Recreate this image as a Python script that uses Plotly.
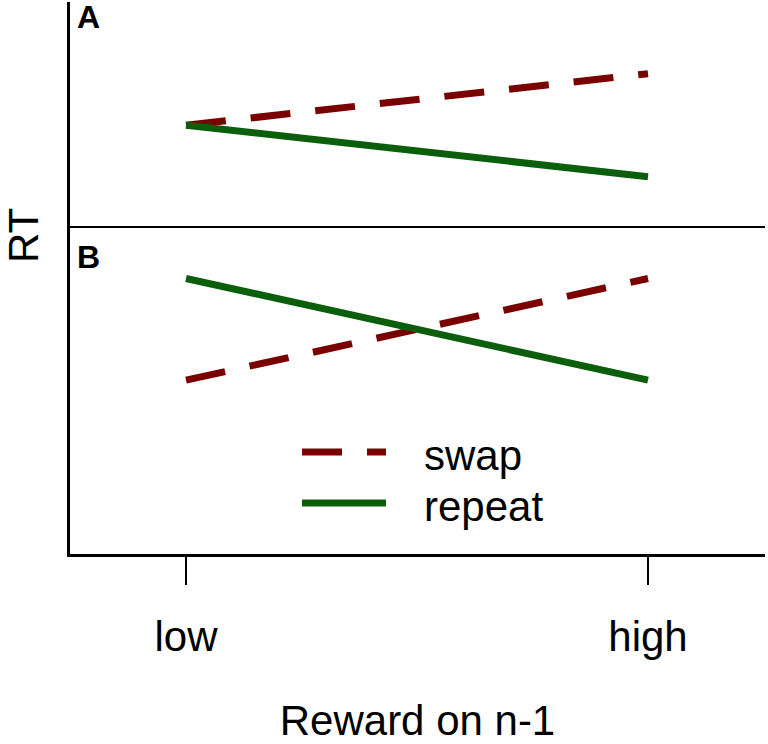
import plotly.graph_objects as go

# ---- data ----
categories = ["low", "high"]
panel_a_swap = [4.5, 6.8]
panel_a_repeat = [4.5, 2.2]
panel_b_swap = [5.3, 8.4]
panel_b_repeat = [8.4, 5.3]
series_names = ["swap", "repeat"]
panel_labels = ["A", "B"]
x_title = "Reward on n-1"
y_title = "RT"

RED = "#7a0000"
GREEN = "#0b5e0b"
FONT = "Liberation Sans, Arial, sans-serif"
DASH = "40px,25px"
FS = 42
LW = 7

fig = go.Figure()

# Panel A (top) on x2/y2
fig.add_trace(go.Scatter(x=categories, y=panel_a_swap, mode="lines", xaxis="x2", yaxis="y2",
                         line=dict(color=RED, width=LW, dash=DASH), showlegend=False, name=series_names[0]))
fig.add_trace(go.Scatter(x=categories, y=panel_a_repeat, mode="lines", xaxis="x2", yaxis="y2",
                         line=dict(color=GREEN, width=LW), showlegend=False, name=series_names[1]))
# Panel B (bottom) on x/y
fig.add_trace(go.Scatter(x=categories, y=panel_b_swap, mode="lines", xaxis="x", yaxis="y",
                         line=dict(color=RED, width=LW, dash=DASH), showlegend=False, name=series_names[0]))
fig.add_trace(go.Scatter(x=categories, y=panel_b_repeat, mode="lines", xaxis="x", yaxis="y",
                         line=dict(color=GREEN, width=LW), showlegend=False, name=series_names[1]))

split = 1 - 224 / 552
xr = [-0.2511, 1.2532]

fig.update_layout(
    width=768, height=744,
    margin=dict(l=70, r=3, t=2, b=190, autoexpand=False),
    paper_bgcolor="white", plot_bgcolor="white",
    font=dict(family=FONT, color="black", size=FS),
    xaxis=dict(type="category", categoryorder="array", categoryarray=categories,
               range=xr, anchor="y", showgrid=False, zeroline=False, automargin=False,
               showline=True, linecolor="black", linewidth=3,
               ticks="outside", ticklen=28, tickwidth=2, tickcolor="black",
               tickfont=dict(size=FS, family=FONT), ticklabelstandoff=16,
               title=dict(text=x_title, font=dict(size=FS, family=FONT), standoff=61)),
    xaxis2=dict(type="category", categoryorder="array", categoryarray=categories,
                range=xr, anchor="y2", matches="x", showgrid=False, zeroline=False,
                showline=True, linecolor="black", linewidth=2, automargin=False,
                showticklabels=False, ticks=""),
    yaxis=dict(domain=[0, split], range=[0, 10], anchor="x", showgrid=False, zeroline=False,
               automargin=False,
               showline=True, linecolor="black", linewidth=3, showticklabels=False, ticks=""),
    yaxis2=dict(domain=[split, 1], range=[0, 10], anchor="x2", showgrid=False, zeroline=False,
                automargin=False,
                showline=True, linecolor="black", linewidth=3, showticklabels=False, ticks=""),
    showlegend=False,
)

def px_x(p):
    return (p - 70) / 695

def px_y(p):
    return (554 - p) / 552

# y title
fig.add_annotation(text=y_title, xref="paper", yref="paper", x=px_x(23), y=px_y(236),
                   textangle=-90, showarrow=False, xanchor="center", yanchor="middle",
                   font=dict(size=FS, family=FONT))
# panel labels
fig.add_annotation(text="<b>%s</b>" % panel_labels[0], xref="paper", yref="paper",
                   x=px_x(75), y=px_y(-3), showarrow=False,
                   xanchor="left", yanchor="top", font=dict(size=32, family=FONT))
fig.add_annotation(text="<b>%s</b>" % panel_labels[1], xref="paper", yref="paper",
                   x=px_x(75), y=px_y(237), showarrow=False,
                   xanchor="left", yanchor="top", font=dict(size=32, family=FONT))

# custom legend (long sample lines)
leg_rows = [(series_names[0], RED, DASH, 452), (series_names[1], GREEN, "solid", 503)]
for name, col, dash, yy in leg_rows:
    fig.add_shape(type="line", xref="paper", yref="paper",
                  x0=px_x(302), x1=px_x(386), y0=px_y(yy), y1=px_y(yy),
                  line=dict(color=col, width=LW, dash=dash))
    fig.add_annotation(text=name, xref="paper", yref="paper", x=px_x(422), y=px_y(yy + 3),
                       showarrow=False, xanchor="left", yanchor="middle",
                       font=dict(size=FS, family=FONT))

fig.write_html("out.html", config={"displayModeBar": False},
               post_script="document.body.style.margin='0';document.body.style.padding='0';"
                           "document.documentElement.style.overflow='hidden';")
